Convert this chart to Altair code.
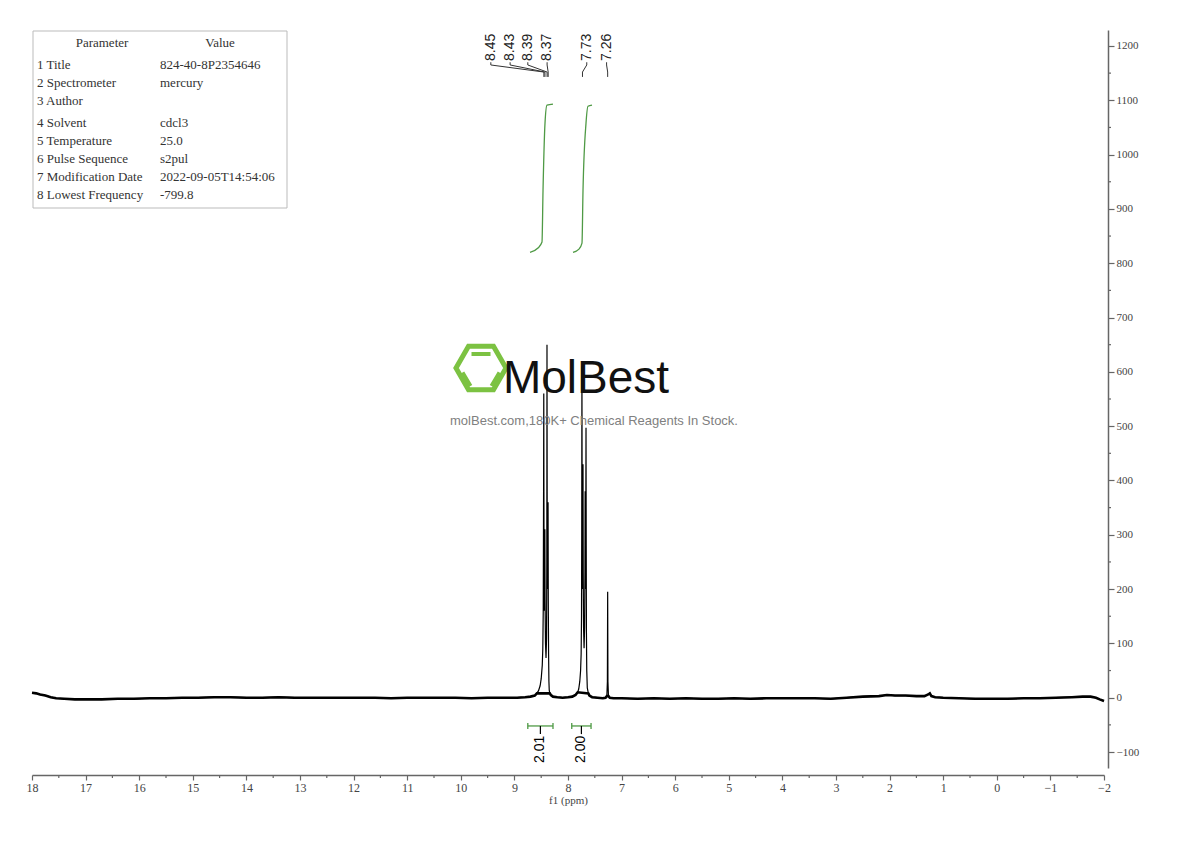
import altair as alt
import pandas as pd

# ---------------- data ----------------
spec_ppm = [18.00, 17.92, 17.85, 17.75, 17.65, 17.55, 17.40, 17.20, 17.00, 16.70, 16.40, 16.10,
            15.80, 15.50, 15.20, 14.90, 14.60, 14.30, 14.00, 13.70, 13.40, 13.10, 12.80, 12.50,
            12.20, 11.90, 11.60, 11.30, 11.00, 10.70, 10.40, 10.10, 9.80, 9.50, 9.20, 8.95,
            8.80, 8.70, 8.62, 8.58, 8.55, 8.52, 8.50, 8.48, 8.47, 8.462, 8.455, 8.452, 8.448,
            8.442, 8.436, 8.432, 8.428, 8.42, 8.41, 8.40, 8.395, 8.392, 8.388, 8.381, 8.376,
            8.372, 8.368, 8.362, 8.356, 8.35, 8.34, 8.32, 8.28, 8.20, 8.10, 8.00, 7.92, 7.86,
            7.82, 7.80, 7.78, 7.765, 7.755, 7.748, 7.744, 7.740, 7.736, 7.73, 7.724, 7.720,
            7.716, 7.71, 7.70, 7.69, 7.684, 7.680, 7.676, 7.67, 7.664, 7.660, 7.656, 7.65,
            7.64, 7.62, 7.60, 7.55, 7.45, 7.35, 7.30, 7.275, 7.265, 7.26, 7.255, 7.245, 7.22,
            7.15, 7.00, 6.70, 6.40, 6.10, 5.80, 5.50, 5.20, 4.90, 4.60, 4.30, 4.00, 3.70, 3.40,
            3.10, 2.80, 2.50, 2.20, 2.05, 1.90, 1.70, 1.50, 1.35, 1.28, 1.25, 1.22, 1.15, 1.00,
            0.70, 0.40, 0.10, -0.20, -0.50, -0.80, -1.10, -1.40, -1.60, -1.75, -1.85, -1.92, -2.00]
spec_int = [9, 8, 6, 4, 1, -1, -2, -3, -3, -3, -2, -2,
            -1, -1, 0, 0, 1, 1, 0, 0, 1, 0, 0, 0,
            0, 0, 0, -1, 0, 0, 0, 0, -1, 0, 0, 0,
            1, 2, 4, 8, 13, 22, 35, 60, 90, 160, 400, 560, 300,
            160, 200, 310, 180, 100, 73, 110, 250, 650, 330, 200, 250,
            360, 180, 80, 30, 14, 8, 5, 2, 1, 0, 1, 2, 5,
            10, 16, 30, 50, 80, 150, 300, 610, 320, 200, 260, 430,
            230, 130, 91, 130, 230, 380, 220, 200, 497, 280, 120, 50,
            18, 8, 4, 1, 0, -1, 0, 3, 30, 195, 30, 3, 0,
            -1, -1, -2, -1, -2, -1, -2, -2, -1, -2, -1, -1, -1, -1,
            -2, 0, 2, 3, 5, 4, 4, 3, 3, 6, 8, 3, 1, 0,
            -1, -2, -2, -2, -1, -1, 0, 1, 2, 2, 0, -3, -6]

peak_labels = ["8.45", "8.43", "8.39", "8.37", "7.73", "7.26"]
peak_ppm = [8.45, 8.43, 8.39, 8.37, 7.73, 7.26]
label_ppm = [9.44, 9.08, 8.75, 8.39, 7.65, 7.28]

int1_ppm = [8.709, 8.56, 8.485, 8.466, 8.429, 8.392, 8.28]
int1_val = [820, 828, 839, 934, 1058, 1091, 1093]
int2_ppm = [7.907, 7.795, 7.739, 7.72, 7.664, 7.627, 7.552]
int2_val = [820, 826, 837, 934, 1058, 1089, 1091]

integ_from = [8.75, 7.93]
integ_to = [8.28, 7.57]
integ_text = ["2.01", "2.00"]

param_names = ["1 Title", "2 Spectrometer", "3 Author", "4 Solvent", "5 Temperature",
               "6 Pulse Sequence", "7 Modification Date", "8 Lowest Frequency"]
param_values = ["824-40-8P2354646", "mercury", "", "cdcl3", "25.0", "s2pul",
                "2022-09-05T14:54:06", "-799.8"]

x_ticks = [18, 17, 16, 15, 14, 13, 12, 11, 10, 9, 8, 7, 6, 5, 4, 3, 2, 1, 0, -1, -2]
x_minor = [17.5, 16.5, 15.5, 14.5, 13.5, 12.5, 11.5, 10.5, 9.5, 8.5, 7.5, 6.5, 5.5, 4.5,
           3.5, 2.5, 1.5, 0.5, -0.5, -1.5]
y_ticks = [-100, 0, 100, 200, 300, 400, 500, 600, 700, 800, 900, 1000, 1100, 1200]
y_minor = [-50, 50, 150, 250, 350, 450, 550, 650, 750, 850, 950, 1050, 1150]

# ---------------- layout / style ----------------
W, H = 1072, 738
XS = alt.Scale(domain=[18, -2], nice=False, zero=False)
YS = alt.Scale(domain=[-129.4, 1229.4], nice=False, zero=False)
GREEN = "#4f9a45"
AX = "#666666"
SERIF = "Liberation Serif"
SANS = "Liberation Sans"

x_axis = alt.Axis(values=x_ticks, format="d", orient="bottom", offset=7, tickSize=5,
                  tickColor=AX, domainColor=AX, domainWidth=1.5, tickWidth=1.2,
                  labelFont=SERIF, labelFontSize=12, labelColor="#444", labelPadding=2,
                  title="f1 (ppm)", titleFont=SERIF, titleFontSize=11,
                  titleFontWeight="normal", titleColor="#444", titlePadding=1,
                  grid=False, labelFlush=False, labelOverlap=False)
y_axis = alt.Axis(values=y_ticks, format="d", orient="right", offset=4, tickSize=6,
                  tickColor=AX, domainColor=AX, domainWidth=1.5, tickWidth=1.2,
                  labelFont=SERIF, labelFontSize=11, labelColor="#444", labelPadding=2,
                  title=None, grid=False, labelFlush=False, labelOverlap=False)


def X(field):
    return alt.X(field, type="quantitative", scale=XS, axis=x_axis)


def Y(field):
    return alt.Y(field, type="quantitative", scale=YS, axis=y_axis)


def YD(v):
    return alt.YDatum(v, scale=YS, axis=y_axis)


spec_df = pd.DataFrame({"ppm": spec_ppm, "v": spec_int, "i": range(len(spec_ppm))})

# watermark
wm_df = pd.DataFrame({"a": [0]})
HEX = "M-1,0L-0.5,-0.866L0.5,-0.866L1,0L0.5,0.866L-0.5,0.866Z"
INNER = "M-0.38,-0.56L0.38,-0.56M-0.74,0.18L-0.42,0.72M0.74,0.18L0.42,0.72"
hexagon = alt.Chart(wm_df).mark_point(shape=HEX, filled=False, stroke="#7cc242",
                                      strokeWidth=5, size=2500, opacity=1).encode(
    x=alt.value(449), y=alt.value(338))
inner = alt.Chart(wm_df).mark_point(shape=INNER, filled=False, stroke="#7cc242",
                                    strokeWidth=4, size=2500, opacity=1).encode(
    x=alt.value(449), y=alt.value(338))
molbest = alt.Chart(wm_df).mark_text(text="MolBest",
                                     font="Liberation Sans Narrow, Liberation Sans",
                                     fontSize=46, color="#111", align="center",
                                     baseline="alphabetic").encode(
    x=alt.value(554), y=alt.value(363))
tagline = alt.Chart(wm_df).mark_text(text="molBest.com,180K+ Chemical Reagents In Stock.",
                                     font=SANS, fontSize=13, color="#808080", align="center",
                                     baseline="middle").encode(
    x=alt.value(562), y=alt.value(391))

# parameter table
table_box = alt.Chart(wm_df).mark_rect(fill="white", stroke="#bbbbbb", strokeWidth=1).encode(
    x=alt.value(1), x2=alt.value(255), y=alt.value(1), y2=alt.value(178))
row_py = [35, 53, 71, 93, 111, 129, 147, 165]
tab_df = pd.DataFrame({"name": param_names, "val": param_values, "py": row_py})
tab_names = alt.Chart(tab_df).mark_text(align="left", baseline="middle", font=SERIF,
                                        fontSize=13, color="#333").encode(
    x=alt.value(5), y=alt.Y("py:Q", scale=None), text="name:N")
tab_vals = alt.Chart(tab_df).mark_text(align="left", baseline="middle", font=SERIF,
                                       fontSize=13, color="#333").encode(
    x=alt.value(128), y=alt.Y("py:Q", scale=None), text="val:N")
hdr_df = pd.DataFrame({"t": ["Parameter", "Value"], "px": [70, 188], "py": [13, 13]})
tab_hdr = alt.Chart(hdr_df).mark_text(align="center", baseline="middle", font=SERIF,
                                      fontSize=13, color="#333").encode(
    x=alt.X("px:Q", scale=None), y=alt.Y("py:Q", scale=None), text="t:N")

# spectrum
spec_thin = alt.Chart(spec_df).mark_line(color="#000", strokeWidth=1.2).encode(
    x=X("ppm"), y=Y("v"), order="i:Q")
spec_thick = alt.Chart(spec_df).transform_filter("datum.v < 12").mark_line(
    color="#000", strokeWidth=2.6).encode(x=X("ppm"), y=Y("v"), order="i:Q")

# minor ticks
xm = alt.Chart(pd.DataFrame({"m": x_minor})).mark_rule(color=AX, strokeWidth=1.2).encode(
    x=X("m"), y=alt.value(H + 7), y2=alt.value(H + 10))
ym = alt.Chart(pd.DataFrame({"m": y_minor})).mark_rule(color=AX, strokeWidth=1.2).encode(
    y=Y("m"), x=alt.value(W + 4), x2=alt.value(W + 7))

# integral curves
int_df = pd.DataFrame({
    "ppm": int1_ppm + int2_ppm,
    "v": int1_val + int2_val,
    "g": ["a"] * len(int1_ppm) + ["b"] * len(int2_ppm),
})
integrals = alt.Chart(int_df).mark_line(color=GREEN, strokeWidth=1.3, interpolate="monotone").encode(
    x=X("ppm"), y=Y("v"), detail="g:N")

# integral brackets
br_df = pd.DataFrame({"f": integ_from, "t": integ_to, "txt": integ_text,
                      "mid": [(a + b) / 2 for a, b in zip(integ_from, integ_to)]})
br_h = alt.Chart(br_df).mark_rule(color=GREEN, strokeWidth=1.3).encode(
    x=X("f"), x2="t:Q", y=YD(-52))
br_cap1 = alt.Chart(br_df).mark_rule(color=GREEN, strokeWidth=1.3).encode(
    x=X("f"), y=YD(-46.5), y2=alt.Y2Datum(-57.5))
br_cap2 = alt.Chart(br_df).mark_rule(color=GREEN, strokeWidth=1.3).encode(
    x=X("t"), y=YD(-46.5), y2=alt.Y2Datum(-57.5))
br_stem = alt.Chart(br_df).mark_rule(color="#000", strokeWidth=1.2).encode(
    x=X("mid"), y=YD(-52), y2=alt.Y2Datum(-67))
br_txt = alt.Chart(br_df).mark_text(angle=270, align="right", baseline="middle", font=SANS,
                                    fontSize=14, color="#000").encode(
    x=X("mid"), y=YD(-70), text="txt:N")

# peak labels + connectors
lab_df = pd.DataFrame({"lab": peak_labels, "lx": label_ppm})
lab_txt = alt.Chart(lab_df).mark_text(angle=270, align="left", baseline="middle", font=SANS,
                                      fontSize=14, color="#222").encode(
    x=X("lx"), y=alt.value(31), text="lab:N")
conn_rows = []
for lab, p, lx in zip(peak_labels, peak_ppm, label_ppm):
    for k, (xx, yy) in enumerate([(lx, 1170), (lx, 1165), (p, 1152), (p, 1143)]):
        conn_rows.append({"lab": lab, "k": k, "ppm": xx, "v": yy})
conn = alt.Chart(pd.DataFrame(conn_rows)).mark_line(color="#333", strokeWidth=1).encode(
    x=X("ppm"), y=Y("v"), detail="lab:N", order="k:Q")

chart = alt.layer(
    spec_thin, hexagon, inner, molbest, tagline, table_box, tab_names, tab_vals, tab_hdr,
    integrals, spec_thick, xm, ym, br_h, br_cap1, br_cap2, br_stem, br_txt, lab_txt, conn,
).properties(
    width=W, height=H,
    background="white",
    autosize=alt.AutoSizeParams(type="none"),
    padding={"left": 24, "top": 22, "right": 70, "bottom": 50},
).configure_view(stroke=None)

chart.save("out.html", embed_options={"renderer": "svg", "actions": False})
